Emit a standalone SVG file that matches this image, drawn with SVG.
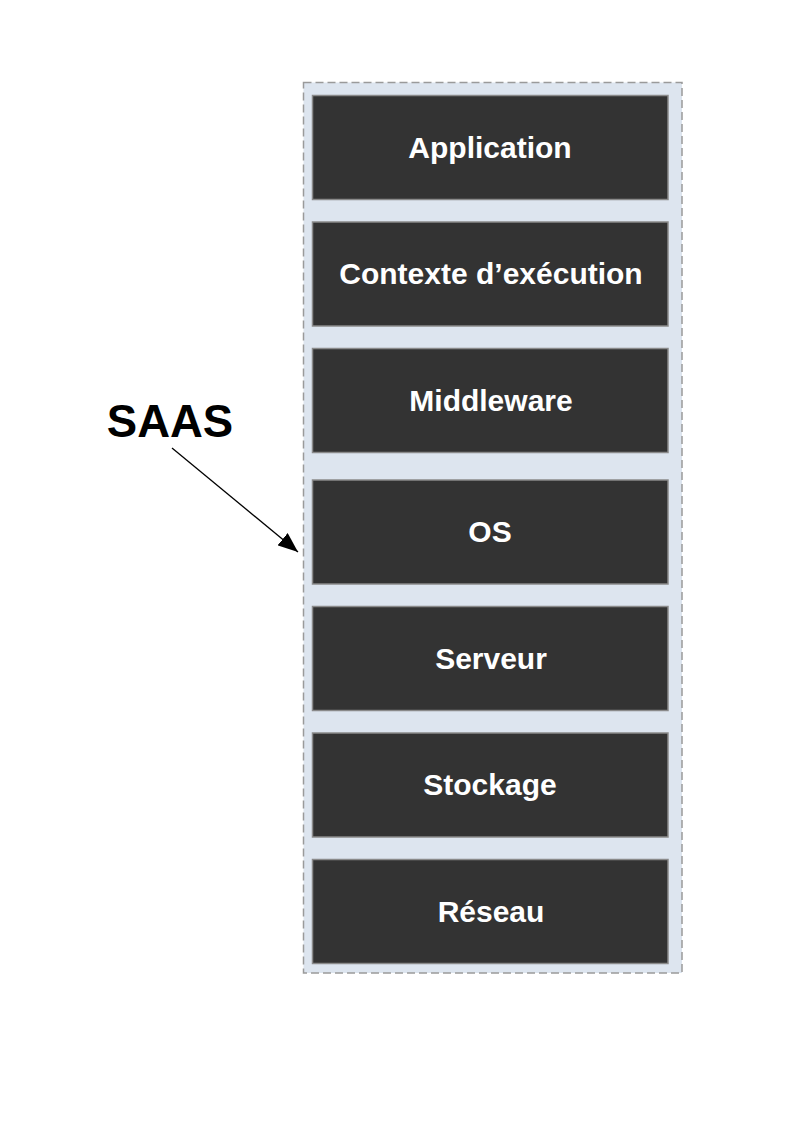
<svg xmlns="http://www.w3.org/2000/svg" width="800" height="1131" viewBox="0 0 800 1131">
<style>
.layer rect{fill:#333333;stroke:#8a8a8a;stroke-width:1.5}
.layer text{fill:#ffffff;font-family:"Liberation Sans",Arial,sans-serif;font-weight:bold;font-size:30px;text-anchor:middle;dominant-baseline:central}
</style>
<defs>
<marker id="ah2" viewBox="0 0 20 16" refX="20" refY="8" markerWidth="20" markerHeight="16" orient="auto" markerUnits="userSpaceOnUse">
<path d="M0,0 L20,8 L0,16 z" fill="#000"/>
</marker>
</defs>
<rect width="800" height="1131" fill="#ffffff"/>
<g id="container">
<rect x="303.5" y="82.5" width="378.5" height="890.5" fill="#dde5ef" stroke="#9a9a9a" stroke-width="1.5" stroke-dasharray="8,4"/>
</g>
<g id="application" class="layer"><rect x="312.5" y="95.5" width="355.5" height="104"/><text x="490" y="147">Application</text></g>
<g id="contexte" class="layer"><rect x="312.5" y="222" width="355.5" height="104"/><text x="491" y="273">Contexte d’exécution</text></g>
<g id="middleware" class="layer"><rect x="312.5" y="348.5" width="355.5" height="104"/><text x="491" y="400">Middleware</text></g>
<g id="os" class="layer"><rect x="312.5" y="480" width="355.5" height="104"/><text x="490" y="531">OS</text></g>
<g id="serveur" class="layer"><rect x="312.5" y="606.5" width="355.5" height="104"/><text x="491" y="658">Serveur</text></g>
<g id="stockage" class="layer"><rect x="312.5" y="733" width="355.5" height="104"/><text x="490" y="784">Stockage</text></g>
<g id="reseau" class="layer"><rect x="312.5" y="859.5" width="355.5" height="104"/><text x="491" y="911">Réseau</text></g>
<g id="saas">
<text x="170" y="421" font-family="Liberation Sans,Arial,sans-serif" font-weight="bold" font-size="45.5" text-anchor="middle" dominant-baseline="central" fill="#000">SAAS</text>
</g>
<g id="connectors">
<line x1="172" y1="448" x2="298" y2="552" stroke="#000" stroke-width="1.3" marker-end="url(#ah2)"/>
</g>
</svg>
